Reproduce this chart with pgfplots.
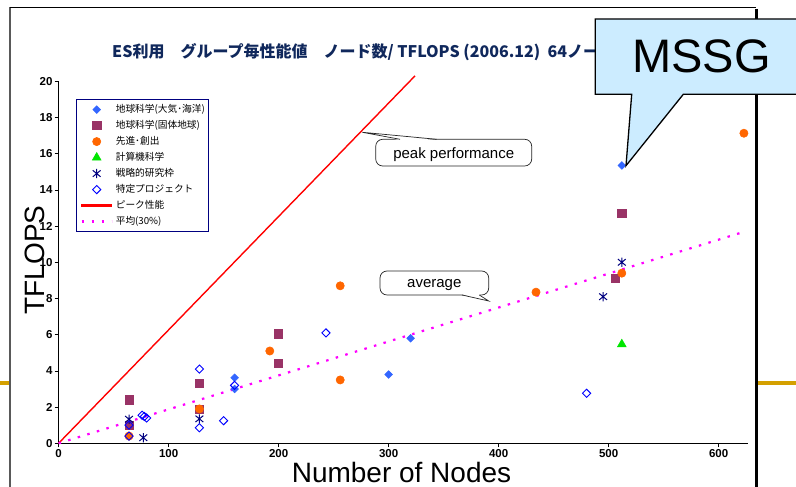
\documentclass[border=0pt]{standalone}
\usepackage{fontspec}
\setmainfont{Liberation Sans}
\newfontfamily\jp{Noto Sans CJK JP}
\usepackage{pgfplots}
\pgfplotsset{compat=1.18}

\definecolor{titleblue}{RGB}{16,40,92}
\definecolor{atmo}{RGB}{51,102,255}
\definecolor{solid}{RGB}{153,51,102}
\definecolor{adv}{RGB}{255,102,0}
\definecolor{comp}{RGB}{0,230,0}
\definecolor{strat}{RGB}{0,0,128}
\definecolor{proj}{RGB}{0,0,255}
\definecolor{peakred}{RGB}{255,0,0}
\definecolor{avgmag}{RGB}{255,0,255}
\definecolor{calloutfill}{RGB}{204,236,255}
\definecolor{gold}{RGB}{212,160,0}

% asterisk drawn as an X with a vertical bar
\pgfdeclareplotmark{xbar}{%
  \pgfpathmoveto{\pgfqpoint{-.85\pgfplotmarksize}{-.7\pgfplotmarksize}}%
  \pgfpathlineto{\pgfqpoint{.85\pgfplotmarksize}{.7\pgfplotmarksize}}%
  \pgfpathmoveto{\pgfqpoint{-.85\pgfplotmarksize}{.7\pgfplotmarksize}}%
  \pgfpathlineto{\pgfqpoint{.85\pgfplotmarksize}{-.7\pgfplotmarksize}}%
  \pgfpathmoveto{\pgfqpoint{0pt}{-\pgfplotmarksize}}%
  \pgfpathlineto{\pgfqpoint{0pt}{\pgfplotmarksize}}%
  \pgfusepathqstroke}

\begin{document}
\begin{tikzpicture}[x=1bp,y=1bp]
\useasboundingbox (0,0) rectangle (796,487);
\fill[white] (0,0) rectangle (796,487);

% slide frame
\draw[line width=1.2bp, black!65] (10,480) -- (10,0);
\draw[line width=0.8bp] (10,480) -- (756,480);
\draw[line width=3bp] (756,478) -- (756,0);
\draw[line width=4bp, gold] (0,104) -- (9,104);
\draw[line width=4bp, gold] (758,104) -- (796,104);

% title
\node[anchor=base west, inner sep=0pt, text=titleblue, font=\jp\bfseries\fontsize{16bp}{18bp}\selectfont]
  at (112,429) {ES利用　グループ毎性能値　ノード数/ TFLOPS (2006.12)\ \ 64ノード以上};

% axis titles
\node[rotate=90, inner sep=0pt, font=\fontsize{28bp}{30bp}\selectfont] at (35,227) {TFLOPS};
\node[anchor=base, inner sep=0pt, font=\fontsize{28bp}{30bp}\selectfont] at (401.5,4) {Number of Nodes};

\begin{axis}[
  at={(58.6bp,43.7bp)}, anchor=south west,
  scale only axis, width=689.7bp, height=362bp,
  xmin=0, xmax=627, ymin=0, ymax=20,
  xtick={0,100,...,600}, ytick={0,2,...,20},
  axis x line=bottom, axis y line=left,
  axis line style={-, line width=0.8bp},
  tick align=outside, major tick length=4bp,
  tick style={line width=0.6bp, black},
  /pgf/number format/assume math mode=true,
  ticklabel style={font=\bfseries\fontsize{11.5bp}{13bp}\selectfont, inner sep=2bp},
  clip=false,
  legend cell align=left,
  legend image code/.code={\draw[mark repeat=2,mark phase=2,#1] plot coordinates {(0bp,0bp) (15bp,0bp) (30bp,0bp)};},
  legend style={at={(0.0253,0.951)}, anchor=north west,
    draw=strat, line width=1.1bp, inner xsep=4bp, inner ysep=5bp,
    font=\jp\fontsize{9.7bp}{11bp}\selectfont,
    nodes={inner sep=0pt, text height=8bp, text depth=2bp},
    row sep=6bp, column sep=3bp},
]
% 地球科学（大気・海洋）
\addplot[only marks, mark=square*, mark size=2.7bp, mark options={rotate=45, fill=atmo, draw=atmo, line width=0.6bp}]
  coordinates {(512,15.35) (320,5.8) (300,3.8) (160,3.62) (160,3.0) (64,1.0)};
\addlegendentry{地球科学(大気･海洋)}
% 地球科学（固体地球）
\addplot[only marks, mark=square*, mark size=4.1bp, mark options={fill=solid, draw=solid, line width=0.6bp}]
  coordinates {(64,2.4) (64,1.0) (128,3.3) (128,1.9) (200,6.05) (200,4.4) (506,9.1) (512,12.7)};
\addlegendentry{地球科学(固体地球)}
% 先進・創出
\addplot[only marks, mark=*, mark size=4.1bp, mark options={fill=adv, draw=adv, line width=0.6bp}]
  coordinates {(64,0.4) (128,1.9) (192,5.1) (256,8.7) (256,3.5) (434,8.35) (512,9.4) (623,17.13)};
\addlegendentry{先進･創出}
% 計算機科学
\addplot[only marks, mark=triangle*, mark size=5bp, mark options={fill=comp, draw=comp, line width=0.6bp}]
  coordinates {(512,5.47)};
\addlegendentry{計算機科学}
% 戦略的研究枠
\addplot[only marks, mark=xbar, mark size=4.6bp, mark options={draw=strat, line width=1bp}]
  coordinates {(64,1.33) (77,0.31) (128,1.35) (495,8.1) (512,10.0)};
\addlegendentry{戦略的研究枠}
% 特定プロジェクト
\addplot[only marks, mark=square, mark size=2.9bp, mark options={rotate=45, draw=proj, line width=0.9bp}]
  coordinates {(64,1.0) (64,0.4) (76,1.55) (78,1.48) (80,1.4) (128,4.1) (128,0.86) (150,1.25) (160,3.2) (243,6.1) (480,2.76)};
\addlegendentry{特定プロジェクト}
% ピーク性能
\addplot[color=peakred, line width=1.4bp, mark=none,
  legend image code/.code={\fill[peakred] (0bp,-1bp) rectangle (30bp,1bp);}]
  coordinates {(0,0) (324,20.3)};
\addlegendentry{ピーク性能}
% 平均（30%）
\addplot[color=avgmag, line width=2.2bp, dash pattern=on 2.5bp off 7.5bp, mark=none] coordinates {(0,0) (625,11.72)};
\addlegendentry{平均(30\%)}
\end{axis}

% callout: peak performance
\draw[line width=0.7bp, black!85, fill=white, rounded corners=7bp] (375.7,321) rectangle (531.7,347.7);
\fill[white] (400,346.8) -- (362.3,354.7) -- (436.7,346.8) -- cycle;
\draw[line width=0.7bp, black!85] (400,347.7) -- (362.3,354.7) -- (436.7,347.7);
\node[font=\fontsize{15bp}{17bp}\selectfont, inner sep=0pt] at (453.7,332) {peak performance};

% callout: average
\draw[line width=0.7bp, black!85, fill=white, rounded corners=7bp] (380,192) rectangle (488.7,216);
\fill[white] (462,192.8) -- (488.7,186) -- (479.3,192.8) -- cycle;
\draw[line width=0.7bp, black!85] (462,192) -- (488.7,186) -- (479.3,192);
\node[font=\fontsize{15bp}{17bp}\selectfont, inner sep=0pt] at (434.3,202) {average};

% callout: MSSG
\draw[line width=1.3bp, fill=calloutfill] (631.7,392.7) -- (626,321.3) -- (683.3,392.7) -- (800,392.7) -- (800,468) -- (595.3,468) -- (595.3,392.7) -- cycle;
\node[anchor=base, inner sep=0pt, font=\fontsize{47bp}{50bp}\selectfont] at (701.5,414) {MSSG};
\end{tikzpicture}
\end{document}
